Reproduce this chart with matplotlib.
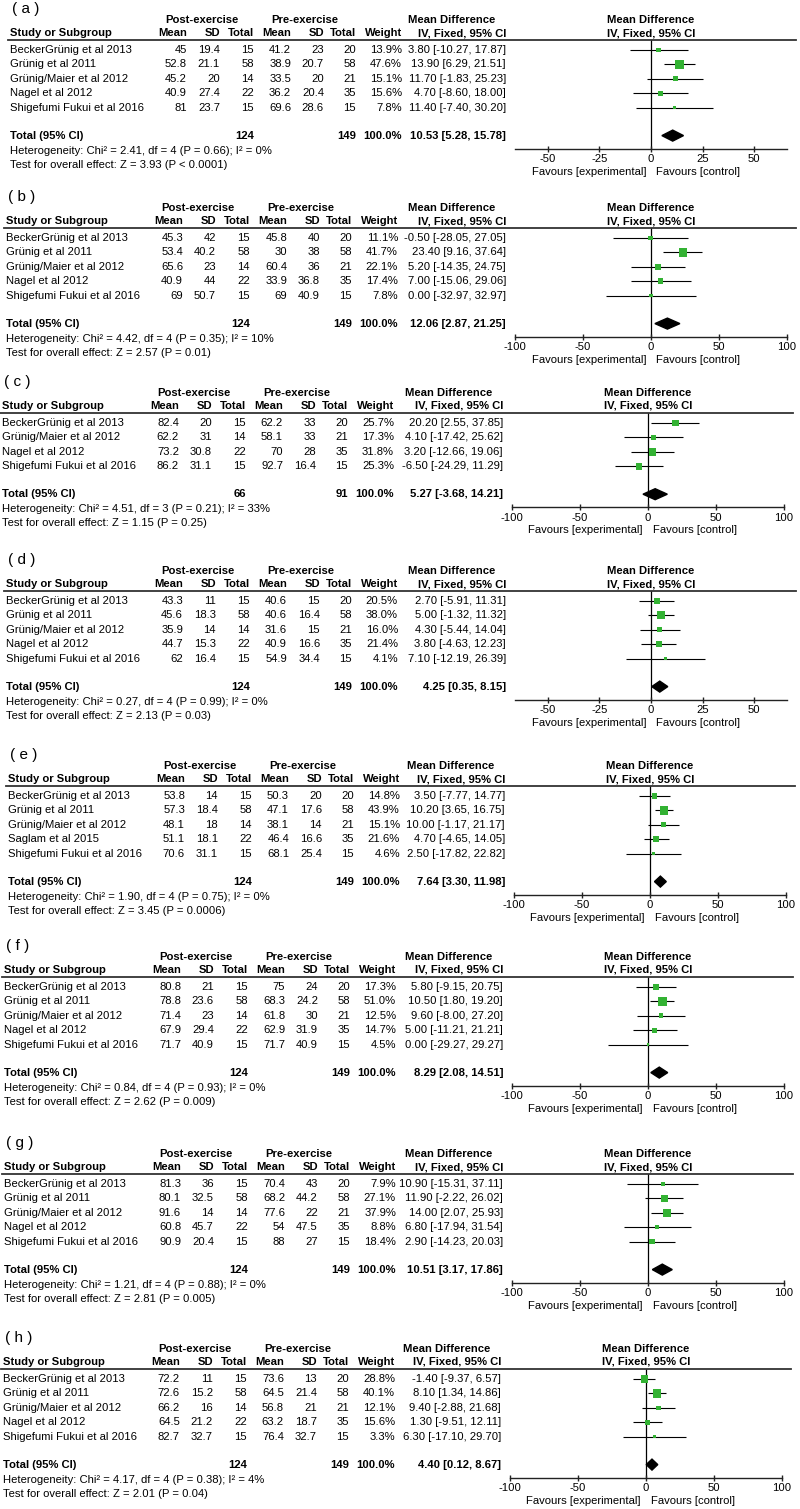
import matplotlib
matplotlib.use('Agg')
import matplotlib.pyplot as plt
from matplotlib.lines import Line2D

plt.rcParams['font.family'] = ['Liberation Sans', 'DejaVu Sans']
plt.rcParams['axes.unicode_minus'] = False

# ---------------- data ----------------
STUDIES_STD = ["BeckerGrünig et al 2013", "Grünig et al 2011", "Grünig/Maier et al 2012",
               "Nagel et al 2012", "Shigefumi Fukui et al 2016"]
STUDIES_C = ["BeckerGrünig et al 2013", "Grünig/Maier et al 2012", "Nagel et al 2012",
             "Shigefumi Fukui et al 2016"]
STUDIES_E = ["BeckerGrünig et al 2013", "Grünig et al 2011", "Grünig/Maier et al 2012",
             "Saglam et al 2015", "Shigefumi Fukui et al 2016"]
N_POST_5 = [15, 58, 14, 22, 15]
N_PRE_5 = [20, 58, 21, 35, 15]
N_POST_C = [15, 14, 22, 15]
N_PRE_C = [20, 21, 35, 15]
TOTAL_WEIGHT = 100.0

# (a)
POST_MEAN_A = [45, 52.8, 45.2, 40.9, 81]
POST_SD_A = [19.4, 21.1, 20, 27.4, 23.7]
PRE_MEAN_A = [41.2, 38.9, 33.5, 36.2, 69.6]
PRE_SD_A = [23, 20.7, 20, 20.4, 28.6]
WEIGHT_A = [13.9, 47.6, 15.1, 15.6, 7.8]
MD_A = [3.80, 13.90, 11.70, 4.70, 11.40]
LO_A = [-10.27, 6.29, -1.83, -8.60, -7.40]
HI_A = [17.87, 21.51, 25.23, 18.00, 30.20]
TOTAL_A = [10.53, 5.28, 15.78]
HET_A = "Heterogeneity: Chi² = 2.41, df = 4 (P = 0.66); I² = 0%"
TEST_A = "Test for overall effect: Z = 3.93 (P < 0.0001)"

# (b)
POST_MEAN_B = [45.3, 53.4, 65.6, 40.9, 69]
POST_SD_B = [42, 40.2, 23, 44, 50.7]
PRE_MEAN_B = [45.8, 30, 60.4, 33.9, 69]
PRE_SD_B = [40, 38, 36, 36.8, 40.9]
WEIGHT_B = [11.1, 41.7, 22.1, 17.4, 7.8]
MD_B = [-0.50, 23.40, 5.20, 7.00, 0.00]
LO_B = [-28.05, 9.16, -14.35, -15.06, -32.97]
HI_B = [27.05, 37.64, 24.75, 29.06, 32.97]
TOTAL_B = [12.06, 2.87, 21.25]
HET_B = "Heterogeneity: Chi² = 4.42, df = 4 (P = 0.35); I² = 10%"
TEST_B = "Test for overall effect: Z = 2.57 (P = 0.01)"

# (c)
POST_MEAN_C = [82.4, 62.2, 73.2, 86.2]
POST_SD_C = [20, 31, 30.8, 31.1]
PRE_MEAN_C = [62.2, 58.1, 70, 92.7]
PRE_SD_C = [33, 33, 28, 16.4]
WEIGHT_C = [25.7, 17.3, 31.8, 25.3]
MD_C = [20.20, 4.10, 3.20, -6.50]
LO_C = [2.55, -17.42, -12.66, -24.29]
HI_C = [37.85, 25.62, 19.06, 11.29]
TOTAL_C = [5.27, -3.68, 14.21]
HET_C = "Heterogeneity: Chi² = 4.51, df = 3 (P = 0.21); I² = 33%"
TEST_C = "Test for overall effect: Z = 1.15 (P = 0.25)"

# (d)
POST_MEAN_D = [43.3, 45.6, 35.9, 44.7, 62]
POST_SD_D = [11, 18.3, 14, 15.3, 16.4]
PRE_MEAN_D = [40.6, 40.6, 31.6, 40.9, 54.9]
PRE_SD_D = [15, 16.4, 15, 16.6, 34.4]
WEIGHT_D = [20.5, 38.0, 16.0, 21.4, 4.1]
MD_D = [2.70, 5.00, 4.30, 3.80, 7.10]
LO_D = [-5.91, -1.32, -5.44, -4.63, -12.19]
HI_D = [11.31, 11.32, 14.04, 12.23, 26.39]
TOTAL_D = [4.25, 0.35, 8.15]
HET_D = "Heterogeneity: Chi² = 0.27, df = 4 (P = 0.99); I² = 0%"
TEST_D = "Test for overall effect: Z = 2.13 (P = 0.03)"

# (e)
POST_MEAN_E = [53.8, 57.3, 48.1, 51.1, 70.6]
POST_SD_E = [14, 18.4, 18, 18.1, 31.1]
PRE_MEAN_E = [50.3, 47.1, 38.1, 46.4, 68.1]
PRE_SD_E = [20, 17.6, 14, 16.6, 25.4]
WEIGHT_E = [14.8, 43.9, 15.1, 21.6, 4.6]
MD_E = [3.50, 10.20, 10.00, 4.70, 2.50]
LO_E = [-7.77, 3.65, -1.17, -4.65, -17.82]
HI_E = [14.77, 16.75, 21.17, 14.05, 22.82]
TOTAL_E = [7.64, 3.30, 11.98]
HET_E = "Heterogeneity: Chi² = 1.90, df = 4 (P = 0.75); I² = 0%"
TEST_E = "Test for overall effect: Z = 3.45 (P = 0.0006)"

# (f)
POST_MEAN_F = [80.8, 78.8, 71.4, 67.9, 71.7]
POST_SD_F = [21, 23.6, 23, 29.4, 40.9]
PRE_MEAN_F = [75, 68.3, 61.8, 62.9, 71.7]
PRE_SD_F = [24, 24.2, 30, 31.9, 40.9]
WEIGHT_F = [17.3, 51.0, 12.5, 14.7, 4.5]
MD_F = [5.80, 10.50, 9.60, 5.00, 0.00]
LO_F = [-9.15, 1.80, -8.00, -11.21, -29.27]
HI_F = [20.75, 19.20, 27.20, 21.21, 29.27]
TOTAL_F = [8.29, 2.08, 14.51]
HET_F = "Heterogeneity: Chi² = 0.84, df = 4 (P = 0.93); I² = 0%"
TEST_F = "Test for overall effect: Z = 2.62 (P = 0.009)"

# (g)
POST_MEAN_G = [81.3, 80.1, 91.6, 60.8, 90.9]
POST_SD_G = [36, 32.5, 14, 45.7, 20.4]
PRE_MEAN_G = [70.4, 68.2, 77.6, 54, 88]
PRE_SD_G = [43, 44.2, 22, 47.5, 27]
WEIGHT_G = [7.9, 27.1, 37.9, 8.8, 18.4]
MD_G = [10.90, 11.90, 14.00, 6.80, 2.90]
LO_G = [-15.31, -2.22, 2.07, -17.94, -14.23]
HI_G = [37.11, 26.02, 25.93, 31.54, 20.03]
TOTAL_G = [10.51, 3.17, 17.86]
HET_G = "Heterogeneity: Chi² = 1.21, df = 4 (P = 0.88); I² = 0%"
TEST_G = "Test for overall effect: Z = 2.81 (P = 0.005)"

# (h)
POST_MEAN_H = [72.2, 72.6, 66.2, 64.5, 82.7]
POST_SD_H = [11, 15.2, 16, 21.2, 32.7]
PRE_MEAN_H = [73.6, 64.5, 56.8, 63.2, 76.4]
PRE_SD_H = [13, 21.4, 21, 18.7, 32.7]
WEIGHT_H = [28.8, 40.1, 12.1, 15.6, 3.3]
MD_H = [-1.40, 8.10, 9.40, 1.30, 6.30]
LO_H = [-9.37, 1.34, -2.88, -9.51, -17.10]
HI_H = [6.57, 14.86, 21.68, 12.11, 29.70]
TOTAL_H = [4.40, 0.12, 8.67]
HET_H = "Heterogeneity: Chi² = 4.17, df = 4 (P = 0.38); I² = 4%"
TEST_H = "Test for overall effect: Z = 2.01 (P = 0.04)"

TICKS_WIDE = [-100, -50, 0, 50, 100]
TICKS_NARROW = [-50, -25, 0, 25, 50]

panels = [
    dict(label="a", studies=STUDIES_STD, pm=POST_MEAN_A, ps=POST_SD_A, pn=N_POST_5,
         qm=PRE_MEAN_A, qs=PRE_SD_A, qn=N_PRE_5, w=WEIGHT_A, md=MD_A, lo=LO_A, hi=HI_A,
         tot=TOTAL_A, het=HET_A, test=TEST_A, ticks=TICKS_NARROW, lim=66),
    dict(label="b", studies=STUDIES_STD, pm=POST_MEAN_B, ps=POST_SD_B, pn=N_POST_5,
         qm=PRE_MEAN_B, qs=PRE_SD_B, qn=N_PRE_5, w=WEIGHT_B, md=MD_B, lo=LO_B, hi=HI_B,
         tot=TOTAL_B, het=HET_B, test=TEST_B, ticks=TICKS_WIDE, lim=100),
    dict(label="c", studies=STUDIES_C, pm=POST_MEAN_C, ps=POST_SD_C, pn=N_POST_C,
         qm=PRE_MEAN_C, qs=PRE_SD_C, qn=N_PRE_C, w=WEIGHT_C, md=MD_C, lo=LO_C, hi=HI_C,
         tot=TOTAL_C, het=HET_C, test=TEST_C, ticks=TICKS_WIDE, lim=100),
    dict(label="d", studies=STUDIES_STD, pm=POST_MEAN_D, ps=POST_SD_D, pn=N_POST_5,
         qm=PRE_MEAN_D, qs=PRE_SD_D, qn=N_PRE_5, w=WEIGHT_D, md=MD_D, lo=LO_D, hi=HI_D,
         tot=TOTAL_D, het=HET_D, test=TEST_D, ticks=TICKS_NARROW, lim=66),
    dict(label="e", studies=STUDIES_E, pm=POST_MEAN_E, ps=POST_SD_E, pn=N_POST_5,
         qm=PRE_MEAN_E, qs=PRE_SD_E, qn=N_PRE_5, w=WEIGHT_E, md=MD_E, lo=LO_E, hi=HI_E,
         tot=TOTAL_E, het=HET_E, test=TEST_E, ticks=TICKS_WIDE, lim=100),
    dict(label="f", studies=STUDIES_STD, pm=POST_MEAN_F, ps=POST_SD_F, pn=N_POST_5,
         qm=PRE_MEAN_F, qs=PRE_SD_F, qn=N_PRE_5, w=WEIGHT_F, md=MD_F, lo=LO_F, hi=HI_F,
         tot=TOTAL_F, het=HET_F, test=TEST_F, ticks=TICKS_WIDE, lim=100),
    dict(label="g", studies=STUDIES_STD, pm=POST_MEAN_G, ps=POST_SD_G, pn=N_POST_5,
         qm=PRE_MEAN_G, qs=PRE_SD_G, qn=N_PRE_5, w=WEIGHT_G, md=MD_G, lo=LO_G, hi=HI_G,
         tot=TOTAL_G, het=HET_G, test=TEST_G, ticks=TICKS_WIDE, lim=100),
    dict(label="h", studies=STUDIES_STD, pm=POST_MEAN_H, ps=POST_SD_H, pn=N_POST_5,
         qm=PRE_MEAN_H, qs=PRE_SD_H, qn=N_PRE_5, w=WEIGHT_H, md=MD_H, lo=LO_H, hi=HI_H,
         tot=TOTAL_H, het=HET_H, test=TEST_H, ticks=TICKS_WIDE, lim=100),
]

# ---------------- layout ----------------
W, H = 800, 1509
FS = 8.1
GREEN = '#33b233'
HEADER_LINES = [40, 228, 413, 591, 786, 977, 1174, 1369]
DX_TABLE = [4, 0, -4, 0, 2, -2, -2, -3]
DX_RIGHT = [0, 0, -3, 0, -1, -3, -3, -5]

fig = plt.figure(figsize=(W / 100, H / 100), dpi=100)


def T(x, y, s, ha='left', bold=False, size=FS):
    fig.text(x / W, 1 - y / H, s, ha=ha, va='center', fontsize=size,
             fontweight='bold' if bold else 'normal', color='black')


def fmt(v):
    return '{:g}'.format(v)


for p, L, dx, dr in zip(panels, HEADER_LINES, DX_TABLE, DX_RIGHT):
    n = len(p['studies'])
    T(8 + dx, L - 31, "( {} )".format(p['label']), size=11)
    # group headers
    gy = L - 20
    T(198 + dx, gy, "Post-exercise", ha='center', bold=True)
    T(301 + dx, gy, "Pre-exercise", ha='center', bold=True)
    T(452 + dr, gy, "Mean Difference", ha='center', bold=True)
    T(651 + dr, gy, "Mean Difference", ha='center', bold=True)
    # column headers
    cy = L - 7
    T(6 + dx, cy, "Study or Subgroup", bold=True)
    cols = [183, 216, 250, 287, 320, 352, 398]
    for cx, s in zip(cols, ["Mean", "SD", "Total", "Mean", "SD", "Total", "Weight"]):
        T(cx + dx, cy, s, ha='right', bold=True)
    T(506 + dr, cy, "IV, Fixed, 95% CI", ha='right', bold=True)
    T(651 + dr, cy, "IV, Fixed, 95% CI", ha='center', bold=True)
    fig.add_artist(Line2D([(4 + dx) / W, (796 + dr) / W], [1 - L / H, 1 - L / H],
                          color='#333333', lw=1.3))
    # rows
    ys = [L + 10 + 14.4 * i for i in range(n)]
    for i, y in enumerate(ys):
        T(6 + dx, y, p['studies'][i])
        vals = [fmt(p['pm'][i]), fmt(p['ps'][i]), str(p['pn'][i]),
                fmt(p['qm'][i]), fmt(p['qs'][i]), str(p['qn'][i]),
                "{:.1f}%".format(p['w'][i])]
        for cx, s in zip(cols, vals):
            T(cx + dx, y, s, ha='right')
        T(506 + dr, y, "{:.2f} [{:.2f}, {:.2f}]".format(p['md'][i], p['lo'][i], p['hi'][i]),
          ha='right')
    ty = ys[-1] + 28
    T(6 + dx, ty, "Total (95% CI)", bold=True)
    T(250 + dx, ty, str(sum(p['pn'])), ha='right', bold=True)
    T(352 + dx, ty, str(sum(p['qn'])), ha='right', bold=True)
    T(398 + dx, ty, "{:.1f}%".format(TOTAL_WEIGHT), ha='right', bold=True)
    T(506 + dr, ty, "{:.2f} [{:.2f}, {:.2f}]".format(*p['tot']), ha='right', bold=True)
    T(6 + dx, ty + 15, p['het'])
    T(6 + dx, ty + 29, p['test'])

    # forest axis
    A = ty + 13
    x0, x1 = 515 + dr, 787 + dr
    ax = fig.add_axes([x0 / W, 1 - A / H, (x1 - x0) / W, (A - L) / H])
    ax.set_xlim(-p['lim'], p['lim'])
    ax.set_ylim(A, L)
    ax.patch.set_alpha(0)
    for s in ['top', 'left', 'right']:
        ax.spines[s].set_visible(False)
    ax.spines['bottom'].set_color('#222222')
    ax.spines['bottom'].set_linewidth(1.0)
    ax.set_yticks([])
    ax.set_xticks(p['ticks'])
    ax.set_xticklabels([str(t) for t in p['ticks']])
    ax.tick_params(axis='x', direction='inout', length=5, width=1.0, pad=1.5,
                   labelsize=FS, colors='#222222', labelcolor='black')
    ax.axvline(0, color='black', lw=0.9, zorder=1)
    ax.hlines(ys, p['lo'], p['hi'], color='black', lw=0.8, zorder=2)
    ax.scatter(p['md'], ys, marker='s', s=[0.9 * w for w in p['w']],
               color=GREEN, linewidths=0, zorder=3, clip_on=False)
    m, lo, hi = p['tot']
    ax.fill([lo, m, hi, m], [ty, ty - 5.5, ty, ty + 5.5], color='black', zorder=3,
            clip_on=False)
    T(646 + dr, A + 23, "Favours [experimental]", ha='right')
    T(656 + dr, A + 23, "Favours [control]", ha='left')

fig.savefig('out.png', dpi=100)
